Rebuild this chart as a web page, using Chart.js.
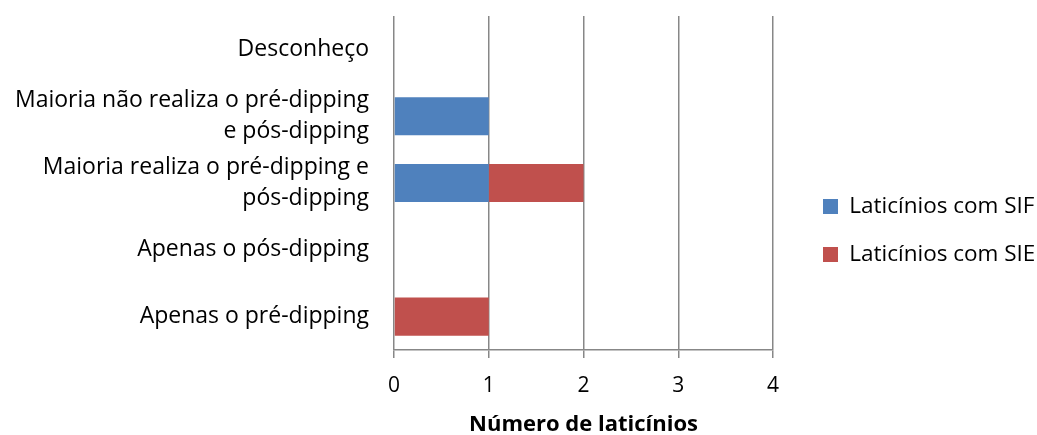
<!DOCTYPE html>
<html>
<head>
<meta charset="utf-8">
<script src="https://cdn.jsdelivr.net/npm/chart.js@4.4.1/dist/chart.umd.min.js"></script>
<style>
  html, body { margin: 0; padding: 0; background: #ffffff; }
  canvas { display: block; }
</style>
</head>
<body>
<canvas id="chart" width="1037" height="435"></canvas>
<script>
// Responses, listed top to bottom
const categories = [
  'Desconheço',
  ['Maioria não realiza o pré-dipping', 'e pós-dipping'],
  ['Maioria realiza o pré-dipping e', 'pós-dipping'],
  'Apenas o pós-dipping',
  'Apenas o pré-dipping'
];
const seriesNames = ['Laticínios com SIF', 'Laticínios com SIE'];
const sifValues = [0, 1, 1, 0, 0];
const sieValues = [0, 0, 1, 0, 1];
const xTicks = [0, 1, 2, 3, 4];
const xTitle = 'Número de laticínios';

const FONT = '"Open Sans", Lato, sans-serif';
const GRID = '#878787';

// Fixed frame for the plotting area and the legend column
const PLOT_LEFT = 394;
const PLOT_BOTTOM_SPACE = 85;
const PLOT_RIGHT = 773;
const LEGEND_BOX_X = 823;
const LEGEND_SHIFT_Y = 5;

const legendPlacement = {
  id: 'legendPlacement',
  beforeInit(chart) {
    const lg = chart.legend;
    const fit = lg.fit;
    lg.fit = function () {
      fit.call(this);
      this.width = chart.width - PLOT_RIGHT;
    };
  },
  afterLayout(chart) {
    const lg = chart.legend;
    const dx = LEGEND_BOX_X - (lg.left + lg.options.labels.padding);
    lg.left += dx;
    lg.right += dx;
    lg.top += LEGEND_SHIFT_Y;
    lg.bottom += LEGEND_SHIFT_Y;
  }
};

new Chart(document.getElementById('chart'), {
  type: 'bar',
  data: {
    labels: categories,
    datasets: [
      { label: seriesNames[0], data: sifValues, backgroundColor: '#4F81BD', borderWidth: 0 },
      { label: seriesNames[1], data: sieValues, backgroundColor: '#C0504D', borderWidth: 0 }
    ]
  },
  options: {
    indexAxis: 'y',
    responsive: false,
    animation: false,
    devicePixelRatio: 1,
    layout: { padding: { top: 16, right: 0, bottom: 0, left: 0 } },
    datasets: { bar: { categoryPercentage: 1, barPercentage: 0.571 } },
    scales: {
      x: {
        stacked: true,
        min: xTicks[0],
        max: xTicks[xTicks.length - 1],
        afterBuildTicks(scale) { scale.ticks = xTicks.map(v => ({ value: v })); },
        afterFit(scale) {
          scale.height = PLOT_BOTTOM_SPACE;
          scale.paddingLeft = 0;
          scale.paddingRight = 0;
        },
        grid: { color: GRID, lineWidth: 1.5, tickLength: 8, drawTicks: true },
        border: { color: GRID, width: 1.5 },
        ticks: { color: '#000', padding: 15, font: { family: FONT, size: 21 } },
        title: {
          display: true, text: xTitle, color: '#000',
          font: { family: FONT, size: 22, weight: 'bold', lineHeight: 0.9 },
          padding: { top: 6, bottom: 0 }
        }
      },
      y: {
        stacked: true,
        afterFit(scale) {
          scale.width = PLOT_LEFT;
          scale.paddingTop = 0;
          scale.paddingBottom = 0;
        },
        grid: { display: false, drawTicks: false },
        border: { display: false },
        ticks: {
          color: '#000', padding: 25, autoSkip: false,
          font: { family: FONT, size: 23, lineHeight: 1.33 }
        }
      }
    },
    plugins: {
      legend: {
        position: 'right',
        labels: {
          color: '#000', boxWidth: 15, boxHeight: 15, padding: 25.5,
          font: { family: FONT, size: 22.5 }
        }
      },
      tooltip: { enabled: false }
    }
  },
  plugins: [legendPlacement]
});
</script>
</body>
</html>
